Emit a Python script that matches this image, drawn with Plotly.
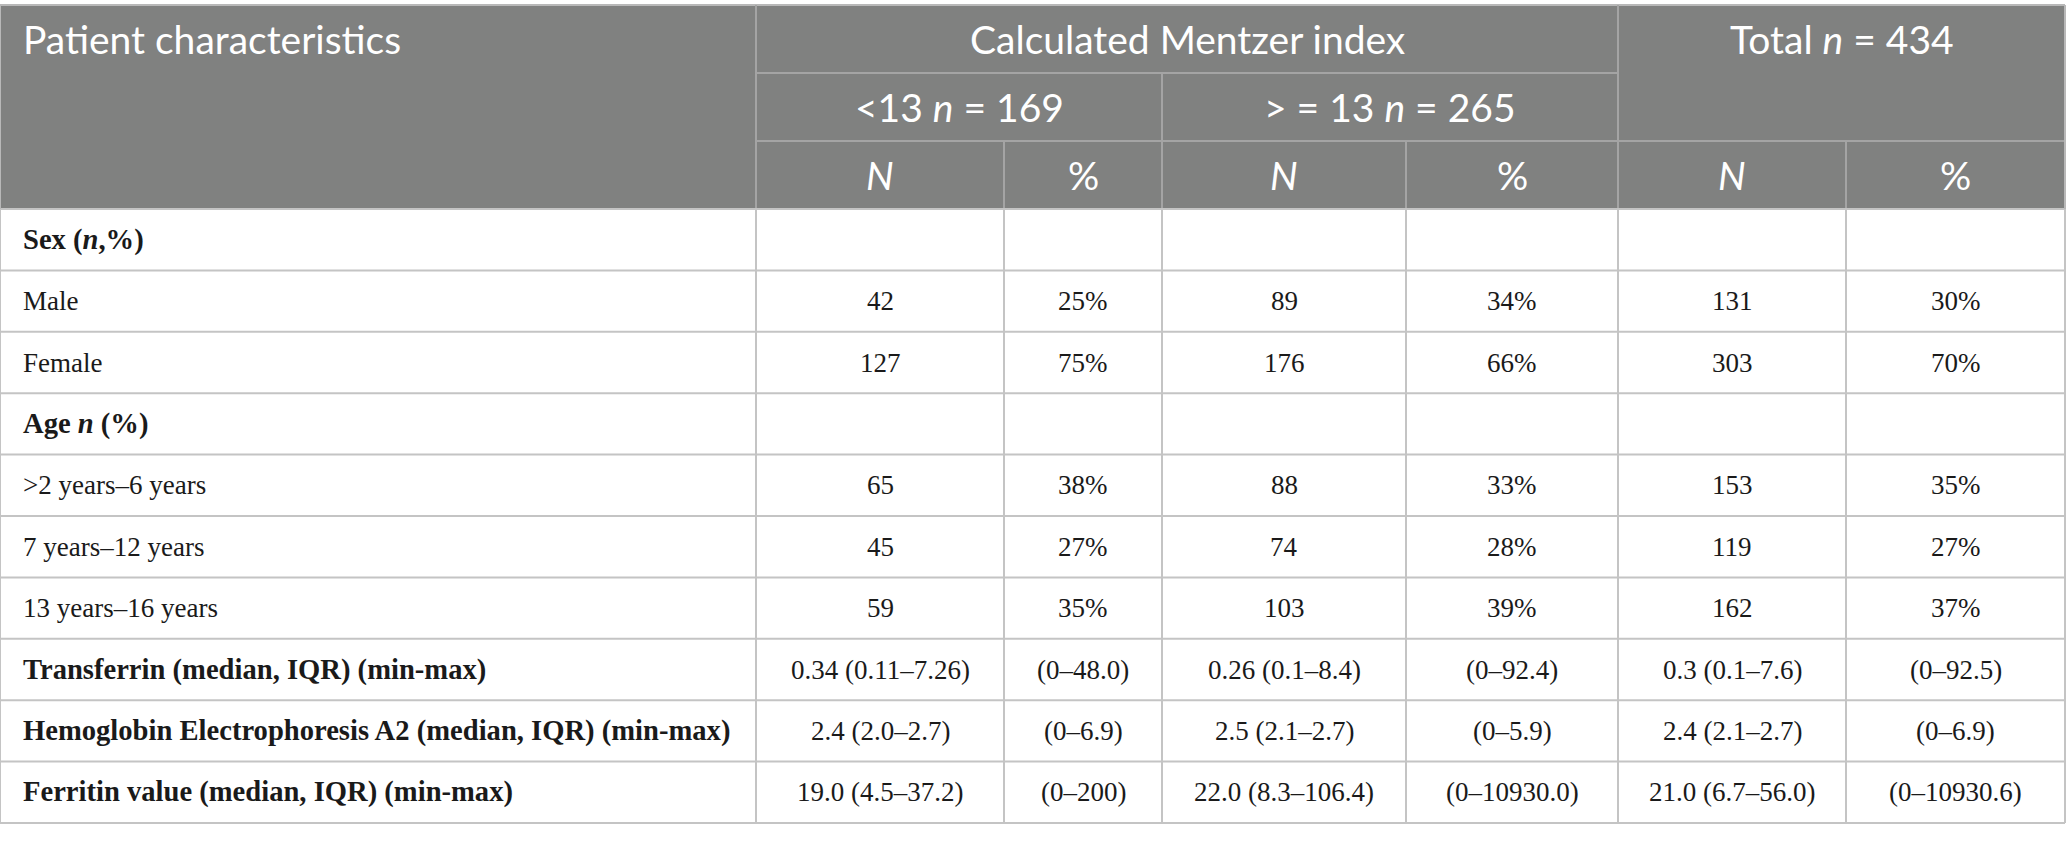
import plotly.graph_objects as go

# ---------------- data ----------------
title_col = "Patient characteristics"
group_header = "Calculated Mentzer index"
total_header = "Total <i>n</i> = 434"
subgroups = ["&lt;13 <i>n</i> = 169", "&gt; = 13 <i>n</i> = 265"]
sub_headers = ["<i>N</i>", "%", "<i>N</i>", "%", "<i>N</i>", "%"]

row_labels = [
    "<b>Sex (<i>n</i>,%)</b>",
    "Male",
    "Female",
    "<b>Age <i>n</i> (%)</b>",
    "&gt;2 years–6 years",
    "7 years–12 years",
    "13 years–16 years",
    "<b>Transferrin (median, IQR) (min-max)</b>",
    "<b>Hemoglobin Electrophoresis A2 (median, IQR) (min-max)</b>",
    "<b>Ferritin value (median, IQR) (min-max)</b>",
]
lt13_N = ["", "42", "127", "", "65", "45", "59",
          "0.34 (0.11–7.26)", "2.4 (2.0–2.7)", "19.0 (4.5–37.2)"]
lt13_pct = ["", "25%", "75%", "", "38%", "27%", "35%",
            "(0–48.0)", "(0–6.9)", "(0–200)"]
ge13_N = ["", "89", "176", "", "88", "74", "103",
          "0.26 (0.1–8.4)", "2.5 (2.1–2.7)", "22.0 (8.3–106.4)"]
ge13_pct = ["", "34%", "66%", "", "33%", "28%", "39%",
            "(0–92.4)", "(0–5.9)", "(0–10930.0)"]
total_N = ["", "131", "303", "", "153", "119", "162",
           "0.3 (0.1–7.6)", "2.4 (2.1–2.7)", "21.0 (6.7–56.0)"]
total_pct = ["", "30%", "70%", "", "35%", "27%", "37%",
             "(0–92.5)", "(0–6.9)", "(0–10930.6)"]

# ---------------- layout geometry ----------------
W, H = 2067, 842
col_x = [0, 756, 1004, 1162, 1406, 1618, 1846, 2065]
hdr_y = [5, 73, 141, 209]
body_top, body_bot = 209, 823
n_rows = len(row_labels)
row_h = (body_bot - body_top) / n_rows
row_y = [body_top + i * row_h for i in range(n_rows + 1)]

HDR_BG = "#808180"
HDR_LINE = "#a4a4a4"
BODY_LINE = "#c4c4c4"
TXT = "#1a1a1a"
SANS = "Lato, 'Open Sans', sans-serif"
SERIF = "'Liberation Serif', 'Times New Roman', serif"
HS = 39
BS = 27
BS_BOLD = 28.6

fig = go.Figure()
fig.add_trace(go.Scatter(x=[0, W], y=[0, H], mode="markers",
                         marker=dict(opacity=0), hoverinfo="skip", showlegend=False))

shapes = []
ann = []

def line(x0, y0, x1, y1, color, w=2):
    shapes.append(dict(type="line", xref="x", yref="y", x0=x0, y0=y0, x1=x1, y1=y1,
                       line=dict(color=color, width=w), layer="above"))

# header background
shapes.append(dict(type="rect", xref="x", yref="y", x0=col_x[0], x1=col_x[-1],
                   y0=hdr_y[0], y1=hdr_y[-1], fillcolor=HDR_BG, line=dict(width=0),
                   layer="below"))

# header lines
line(col_x[0], hdr_y[0], col_x[-1], hdr_y[0], "#b8b8b8")
line(col_x[1], hdr_y[1], col_x[5], hdr_y[1], HDR_LINE)
line(col_x[1], hdr_y[2], col_x[-1], hdr_y[2], HDR_LINE)
line(col_x[1], hdr_y[0], col_x[1], hdr_y[3], HDR_LINE)
line(col_x[5], hdr_y[0], col_x[5], hdr_y[3], HDR_LINE)
line(col_x[3], hdr_y[1], col_x[3], hdr_y[3], HDR_LINE)
for ci in (2, 4, 6):
    line(col_x[ci], hdr_y[2], col_x[ci], hdr_y[3], HDR_LINE)

# body lines
for y in row_y:
    line(col_x[0], y, col_x[-1], y, BODY_LINE)
for x in col_x:
    line(x, body_top, x, body_bot, BODY_LINE)
line(col_x[0], hdr_y[0], col_x[0], hdr_y[3], "#b8b8b8")
line(col_x[-1], hdr_y[0], col_x[-1], hdr_y[3], "#b8b8b8")

def text(x, y, t, font, size, color, xanchor="center"):
    ann.append(dict(x=x, y=y, xref="x", yref="y", text=t, showarrow=False,
                    xanchor=xanchor, yanchor="middle",
                    font=dict(family=font, size=size, color=color)))

# header texts
text(21, (hdr_y[0] + hdr_y[1]) / 2, title_col, SANS, HS, "white", "left")
text((col_x[1] + col_x[5]) / 2, (hdr_y[0] + hdr_y[1]) / 2, group_header, SANS, HS, "white")
text((col_x[5] + col_x[7]) / 2, (hdr_y[0] + hdr_y[1]) / 2, total_header, SANS, HS, "white")
text((col_x[1] + col_x[3]) / 2, (hdr_y[1] + hdr_y[2]) / 2, subgroups[0], SANS, HS, "white")
text((col_x[3] + col_x[5]) / 2, (hdr_y[1] + hdr_y[2]) / 2, subgroups[1], SANS, HS, "white")
for i, s in enumerate(sub_headers):
    text((col_x[i + 1] + col_x[i + 2]) / 2, (hdr_y[2] + hdr_y[3]) / 2, s, SANS, HS, "white")

# body texts
cols = [lt13_N, lt13_pct, ge13_N, ge13_pct, total_N, total_pct]
for r in range(n_rows):
    yc = (row_y[r] + row_y[r + 1]) / 2
    lab = row_labels[r]
    text(21, yc, lab, SERIF, BS_BOLD if lab.startswith("<b>") else BS, TXT, "left")
    for c, vals in enumerate(cols):
        if vals[r]:
            text((col_x[c + 1] + col_x[c + 2]) / 2, yc, vals[r], SERIF, BS, TXT)

fig.update_layout(
    width=W, height=H,
    margin=dict(l=0, r=0, t=0, b=0),
    paper_bgcolor="white", plot_bgcolor="white",
    xaxis=dict(range=[0, W], visible=False, fixedrange=True),
    yaxis=dict(range=[H, 0], visible=False, fixedrange=True),
    shapes=shapes, annotations=ann, showlegend=False,
)

fig.write_html("out.html", config={"displayModeBar": False, "staticPlot": True},
               post_script="document.body.style.margin='0';document.body.style.overflow='hidden';")
